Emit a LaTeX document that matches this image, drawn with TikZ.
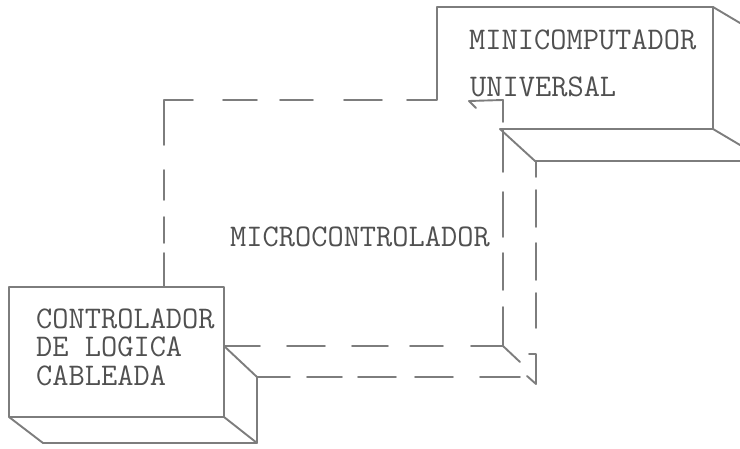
\documentclass[tikz,border=0pt]{standalone}
\definecolor{linegray}{RGB}{125,125,125}
\definecolor{textgray}{RGB}{80,80,80}
\tikzset{
  ln/.style={draw=linegray, line width=1.9pt, line cap=round, line join=round},
  lbl/.style={anchor=base west, inner sep=0pt, text=textgray, font=\fontsize{31.5}{31.5}\selectfont\ttfamily}
}
\begin{document}
\begin{tikzpicture}[x=1pt,y=-1pt]
\useasboundingbox (0,0) rectangle (740,449);
% Controlador de logica cableada
\draw[ln] (9,287) -- (224,287) -- (224,417) -- (9,417) -- cycle;
\draw[ln] (9,417) -- (43,443) -- (257,443) -- (257,377) -- (224,346);
\draw[ln] (224,417) -- (257,443);
% Minicomputador universal
\draw[ln] (407,100) -- (437,100) -- (437,7) -- (713,7) -- (713,129) -- (500,129);
\draw[ln] (713,7) -- (740,23);
\draw[ln] (713,129) -- (740,145);
\draw[ln] (500,129) -- (535,161) -- (740,161);
% Microcontrolador (dashed box drawn as individual strokes)
\draw[ln] (164,145) -- (164,100) -- (193,100);
\draw[ln] (223,100) -- (257,100);
\draw[ln] (280,100) -- (313,100);
\draw[ln] (344,100) -- (382,100);
\draw[ln] (476,108) -- (469,101) -- (503,100) -- (503,122);
\draw[ln] (164,170) -- (164,200);
\draw[ln] (164,217) -- (164,243);
\draw[ln] (164,253) -- (164,287);
\draw[ln] (503,130) -- (503,172);
\draw[ln] (503,192) -- (503,237);
\draw[ln] (503,253) -- (503,290);
\draw[ln] (503,307) -- (503,346) -- (471,346);
\draw[ln] (503,346) -- (520,362);
\draw[ln] (224,346) -- (260,346);
\draw[ln] (287,346) -- (325,346);
\draw[ln] (352,346) -- (388,346);
\draw[ln] (410,346) -- (443,346);
\draw[ln] (257,377) -- (290,377);
\draw[ln] (307,377) -- (342,377);
\draw[ln] (358,377) -- (396,377);
\draw[ln] (415,377) -- (453,377);
\draw[ln] (480,377) -- (520,377);
\draw[ln] (527,376) -- (536,384);
\draw[ln] (536,161) -- (536,177);
\draw[ln] (536,190) -- (536,227);
\draw[ln] (536,243) -- (536,280);
\draw[ln] (536,293) -- (536,328);
\draw[ln] (529,354) -- (536,354) -- (536,384);
% Labels
\node[lbl, anchor=north west, align=left, font=\fontsize{31.5}{28.5}\selectfont\ttfamily] (c1) at (36,308.5) {CONTROLADOR\\DE LOGICA\\CABLEADA};
\node[lbl] (m1) at (469,50) {MINICOMPUTADOR};
\node[lbl] (m2) at (470,97) {UNIVERSAL};
\node[lbl] (mc) at (230,247) {MICROCONTROLADOR};
\end{tikzpicture}
\end{document}
